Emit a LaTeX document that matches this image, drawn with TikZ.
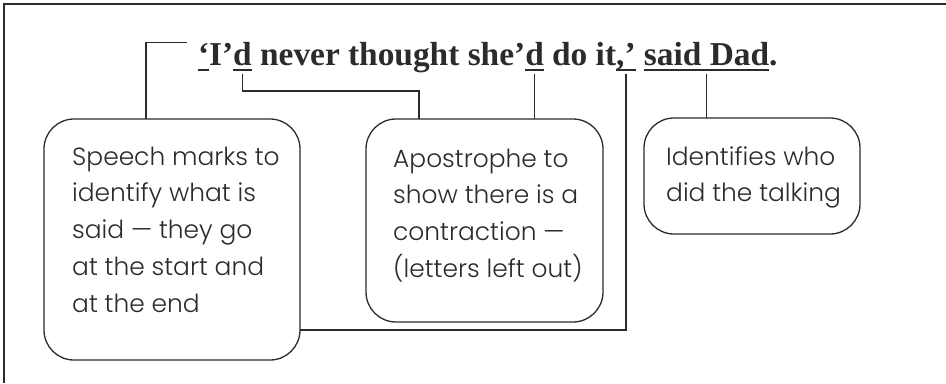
\documentclass[tikz,border=0pt]{standalone}
\usepackage{fontspec}
\setmainfont{Liberation Serif}
\newfontfamily\boxfont{Poppins Light}
\definecolor{ink}{HTML}{2B2B2B}
\begin{document}
\begin{tikzpicture}[x=1bp,y=-1bp,
  frag/.style={inner sep=0pt, outer sep=0pt, anchor=base west, text=ink,
    font=\fontsize{33.5}{36}\selectfont\bfseries},
  box/.style={draw=ink, line width=1.3bp, rounded corners=30bp, inner sep=0pt,
    outer sep=0pt, anchor=north west},
  btext/.style={inner sep=0pt, anchor=base west, text=ink,
    font=\boxfont\fontsize{25}{37}\selectfont},
  link/.style={draw=ink, line width=1.3bp},
  ul/.style={draw=ink, line width=1.5bp},
  frame/.style={draw=ink, line width=2bp}]
\useasboundingbox (0,0) rectangle (946,383);
% frame (top and left only)
\draw[frame] (4,383) -- (4,4) -- (946,4);
% title fragments
\node[frag] (q1) at (198,65) {‘};
\node[frag] (f2) at (q1.base east) {I’};
\node[frag] (d1) at (f2.base east) {d};
\node[frag] (f4) at (d1.base east) {\hbox{\ }never thought she’};
\node[frag] (d2) at (f4.base east) {d};
\node[frag] (f6) at (d2.base east) {\hbox{\ }do it};
\node[frag] (cq) at (f6.base east) {,’};
\node[frag] (f8) at (cq.base east) {\hbox{\ }};
\node[frag] (sd) at (f8.base east) {said Dad};
\node[frag] (f10) at (sd.base east) {.};
% underlines
\foreach \n in {q1,d1,d2,cq,sd}
  \draw[ul] ([yshift=-5bp]\n.base west) -- ([yshift=-5bp]\n.base east);
% boxes
\node[box, minimum width=256bp, minimum height=241bp] (b1) at (44,119) {};
\node[box, minimum width=237bp, minimum height=203bp] (b2) at (366,119) {};
\node[box, minimum width=216bp, minimum height=116bp] (b3) at (644,118) {};
\node[btext] (t1) at (72,165) {\begin{tabular}[t]{@{}l@{}}Speech marks to\\identify what is\\said — they go\\at the start and\\at the end\end{tabular}};
\node[btext] (t2) at (393,167) {\begin{tabular}[t]{@{}l@{}}Apostrophe to\\show there is a\\contraction —\\(letters left out)\end{tabular}};
\node[btext] (t3) at (666,165) {\begin{tabular}[t]{@{}l@{}}Identifies who\\did the talking\end{tabular}};
% connectors
\draw[link] ([xshift=-11bp]q1.north west) -| ([xshift=-26bp]b1.north);
\coordinate (k2) at (419,91);
\draw[link] ([yshift=-9bp]d1.base) |- (k2) -- (k2 |- b2.north);
\draw[link] ([yshift=-9bp]d2.base) -- (d2.base |- b2.north);
\draw[link] ([yshift=-9bp]cq.base) |- ([yshift=30bp]b1.south east);
\draw[link] ([yshift=-9bp]sd.base) -- (sd.base |- b3.north);
\end{tikzpicture}
\end{document}
